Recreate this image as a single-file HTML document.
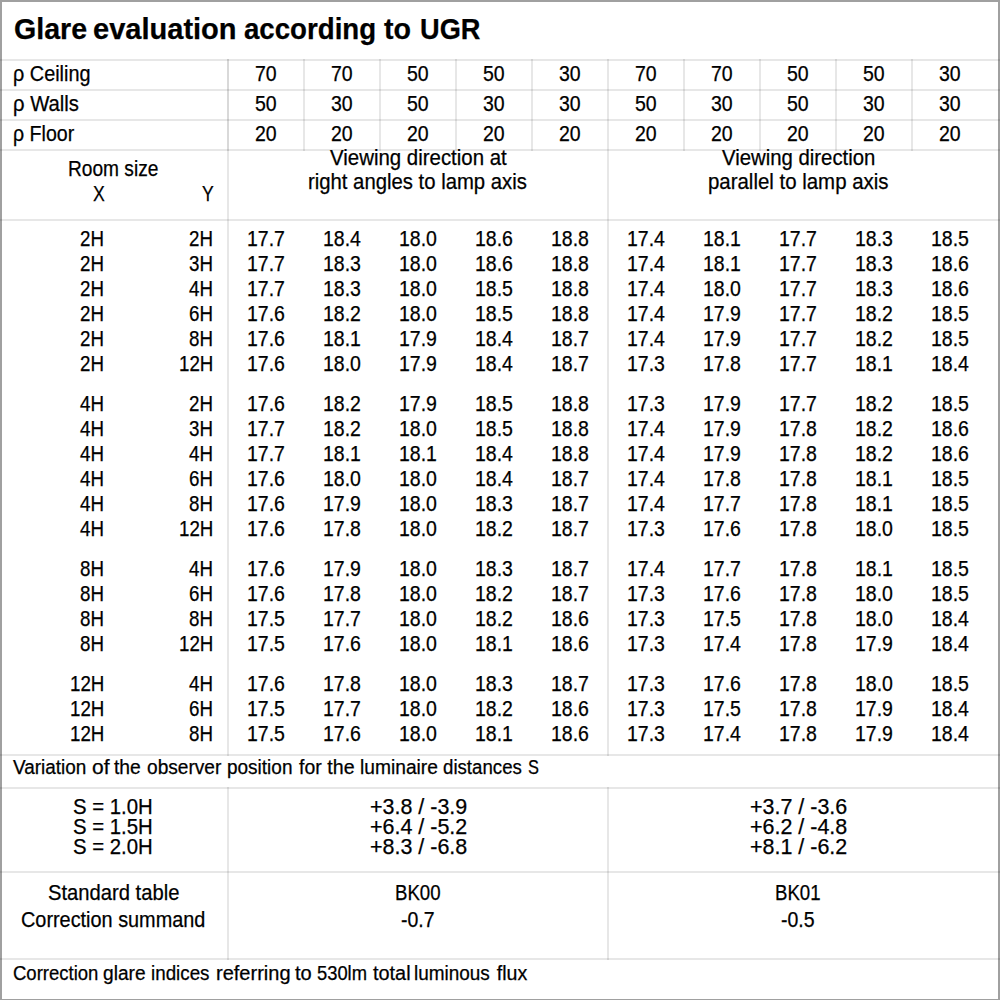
<!DOCTYPE html>
<html><head><meta charset="utf-8"><title>Glare evaluation according to UGR</title>
<style>
html,body{margin:0;padding:0;background:#fff;}
body{width:1000px;height:1000px;position:relative;overflow:hidden;
 font-family:"Liberation Sans",sans-serif;font-size:21.3px;color:#000;}
.frame{position:absolute;left:0;top:0;width:996px;height:997px;
 border-style:solid;border-color:#a0a0a0;border-width:2px 2px 1px 2px;}
.t{position:absolute;white-space:pre;line-height:1;transform-origin:0 0;-webkit-text-stroke:0.25px #000;}
.b{font-weight:bold;font-size:29.2px;}
.s{font-size:19.6px;}
.h{position:absolute;height:2px;background:rgba(0,0,0,0.095);}
.v{position:absolute;width:2px;background:rgba(0,0,0,0.095);}
.vd{background:rgba(0,0,0,0.15);}
</style></head>
<body>
<div class="frame"></div>
<div class="h" style="left:0px;top:59px;width:1000px"></div>
<div class="h" style="left:0px;top:89px;width:1000px"></div>
<div class="h" style="left:0px;top:119px;width:1000px"></div>
<div class="h" style="left:0px;top:149px;width:1000px"></div>
<div class="h" style="left:0px;top:219px;width:1000px"></div>
<div class="h" style="left:0px;top:754px;width:1000px"></div>
<div class="h" style="left:0px;top:787px;width:1000px"></div>
<div class="h" style="left:0px;top:871px;width:1000px"></div>
<div class="h" style="left:0px;top:958px;width:1000px"></div>
<div class="v" style="left:303px;top:59px;height:92px"></div>
<div class="v" style="left:379px;top:59px;height:92px"></div>
<div class="v" style="left:455px;top:59px;height:92px"></div>
<div class="v" style="left:531px;top:59px;height:92px"></div>
<div class="v" style="left:683px;top:59px;height:92px"></div>
<div class="v" style="left:759px;top:59px;height:92px"></div>
<div class="v" style="left:835px;top:59px;height:92px"></div>
<div class="v" style="left:911px;top:59px;height:92px"></div>
<div class="v vd" style="left:227px;top:59px;height:92px"></div>
<div class="v" style="left:227px;top:151px;height:605px"></div>
<div class="v" style="left:227px;top:787px;height:173px"></div>
<div class="v" style="left:607px;top:59px;height:697px"></div>
<div class="v" style="left:607px;top:787px;height:173px"></div>
<div class="t b" style="left:13.78px;top:15px;transform:scaleX(0.9792)">Glare</div>
<div class="t b" style="left:93.26px;top:15px;transform:scaleX(0.9947)">evaluation</div>
<div class="t b" style="left:244.29px;top:15px;transform:scaleX(0.9470)">according</div>
<div class="t b" style="left:384.00px;top:15px;transform:scaleX(0.9810)">to</div>
<div class="t b" style="left:419.62px;top:15px;transform:scaleX(0.9320)">UGR</div>
<div class="t" style="left:12.84px;top:64px;transform:scaleX(0.9317)">ρ Ceiling</div>
<div class="t" style="left:254.92px;top:64px;transform:scaleX(0.9150)">70</div>
<div class="t" style="left:330.92px;top:64px;transform:scaleX(0.9150)">70</div>
<div class="t" style="left:406.92px;top:64px;transform:scaleX(0.9150)">50</div>
<div class="t" style="left:482.92px;top:64px;transform:scaleX(0.9150)">50</div>
<div class="t" style="left:559.03px;top:64px;transform:scaleX(0.9150)">30</div>
<div class="t" style="left:634.92px;top:64px;transform:scaleX(0.9150)">70</div>
<div class="t" style="left:710.92px;top:64px;transform:scaleX(0.9150)">70</div>
<div class="t" style="left:786.92px;top:64px;transform:scaleX(0.9150)">50</div>
<div class="t" style="left:862.92px;top:64px;transform:scaleX(0.9150)">50</div>
<div class="t" style="left:939.03px;top:64px;transform:scaleX(0.9150)">30</div>
<div class="t" style="left:12.81px;top:94px;transform:scaleX(0.9517)">ρ Walls</div>
<div class="t" style="left:254.92px;top:94px;transform:scaleX(0.9150)">50</div>
<div class="t" style="left:331.03px;top:94px;transform:scaleX(0.9150)">30</div>
<div class="t" style="left:406.92px;top:94px;transform:scaleX(0.9150)">50</div>
<div class="t" style="left:483.03px;top:94px;transform:scaleX(0.9150)">30</div>
<div class="t" style="left:559.03px;top:94px;transform:scaleX(0.9150)">30</div>
<div class="t" style="left:634.92px;top:94px;transform:scaleX(0.9150)">50</div>
<div class="t" style="left:711.03px;top:94px;transform:scaleX(0.9150)">30</div>
<div class="t" style="left:786.92px;top:94px;transform:scaleX(0.9150)">50</div>
<div class="t" style="left:863.03px;top:94px;transform:scaleX(0.9150)">30</div>
<div class="t" style="left:939.03px;top:94px;transform:scaleX(0.9150)">30</div>
<div class="t" style="left:12.85px;top:124px;transform:scaleX(0.9192)">ρ Floor</div>
<div class="t" style="left:254.92px;top:124px;transform:scaleX(0.9150)">20</div>
<div class="t" style="left:330.92px;top:124px;transform:scaleX(0.9150)">20</div>
<div class="t" style="left:406.92px;top:124px;transform:scaleX(0.9150)">20</div>
<div class="t" style="left:482.92px;top:124px;transform:scaleX(0.9150)">20</div>
<div class="t" style="left:558.92px;top:124px;transform:scaleX(0.9150)">20</div>
<div class="t" style="left:634.92px;top:124px;transform:scaleX(0.9150)">20</div>
<div class="t" style="left:710.92px;top:124px;transform:scaleX(0.9150)">20</div>
<div class="t" style="left:786.92px;top:124px;transform:scaleX(0.9150)">20</div>
<div class="t" style="left:862.92px;top:124px;transform:scaleX(0.9150)">20</div>
<div class="t" style="left:938.92px;top:124px;transform:scaleX(0.9150)">20</div>
<div class="t" style="left:68.43px;top:159px;transform:scaleX(0.8980)">Room size</div>
<div class="t" style="left:92.58px;top:184px;transform:scaleX(0.8302)">X</div>
<div class="t" style="left:201.89px;top:184px;transform:scaleX(0.8231)">Y</div>
<div class="t" style="left:330.26px;top:148px;transform:scaleX(0.9592)">Viewing direction at</div>
<div class="t" style="left:308.07px;top:172px;transform:scaleX(0.9530)">right angles to lamp axis</div>
<div class="t" style="left:721.66px;top:148px;transform:scaleX(0.9547)">Viewing direction</div>
<div class="t" style="left:708.00px;top:172px;transform:scaleX(0.9589)">parallel to lamp axis</div>
<div class="t s" style="left:12.76px;top:758px;transform:scaleX(0.9664)">Variation</div>
<div class="t s" style="left:91.60px;top:758px;transform:scaleX(1.0710)">of</div>
<div class="t s" style="left:114.15px;top:758px;transform:scaleX(0.9846)">the</div>
<div class="t s" style="left:146.87px;top:758px;transform:scaleX(0.9754)">observer</div>
<div class="t s" style="left:226.79px;top:758px;transform:scaleX(0.9692)">position</div>
<div class="t s" style="left:298.75px;top:758px;transform:scaleX(0.9888)">for</div>
<div class="t s" style="left:327.35px;top:758px;transform:scaleX(1.0000)">the</div>
<div class="t s" style="left:359.77px;top:758px;transform:scaleX(0.9806)">luminaire</div>
<div class="t s" style="left:442.89px;top:758px;transform:scaleX(0.9526)">distances</div>
<div class="t s" style="left:527.76px;top:758px;transform:scaleX(0.8356)">S</div>
<div class="t" style="left:47.95px;top:883px;transform:scaleX(0.9487)">Standard table</div>
<div class="t" style="left:21.37px;top:910px;transform:scaleX(0.9327)">Correction summand</div>
<div class="t s" style="left:12.65px;top:964px;transform:scaleX(0.9450)">Correction</div>
<div class="t s" style="left:103.27px;top:964px;transform:scaleX(0.9762)">glare</div>
<div class="t s" style="left:151.20px;top:964px;transform:scaleX(0.9593)">indices</div>
<div class="t s" style="left:215.72px;top:964px;transform:scaleX(1.0213)">referring</div>
<div class="t s" style="left:295.14px;top:964px;transform:scaleX(1.0230)">to</div>
<div class="t s" style="left:317.30px;top:964px;transform:scaleX(0.9366)">530lm</div>
<div class="t s" style="left:372.75px;top:964px;transform:scaleX(1.0141)">total</div>
<div class="t s" style="left:414.39px;top:964px;transform:scaleX(0.9673)">luminous</div>
<div class="t s" style="left:496.75px;top:964px;transform:scaleX(1.0000)">flux</div>
<div class="t" style="left:80.26px;top:229px;transform:scaleX(0.8800)">2H</div>
<div class="t" style="left:188.91px;top:229px;transform:scaleX(0.8800)">2H</div>
<div class="t" style="left:246.68px;top:229px;transform:scaleX(0.9150)">17.7</div>
<div class="t" style="left:322.57px;top:229px;transform:scaleX(0.9150)">18.4</div>
<div class="t" style="left:398.57px;top:229px;transform:scaleX(0.9150)">18.0</div>
<div class="t" style="left:474.69px;top:229px;transform:scaleX(0.9150)">18.6</div>
<div class="t" style="left:550.68px;top:229px;transform:scaleX(0.9150)">18.8</div>
<div class="t" style="left:626.57px;top:229px;transform:scaleX(0.9150)">17.4</div>
<div class="t" style="left:702.68px;top:229px;transform:scaleX(0.9150)">18.1</div>
<div class="t" style="left:778.68px;top:229px;transform:scaleX(0.9150)">17.7</div>
<div class="t" style="left:854.68px;top:229px;transform:scaleX(0.9150)">18.3</div>
<div class="t" style="left:930.68px;top:229px;transform:scaleX(0.9150)">18.5</div>
<div class="t" style="left:80.26px;top:254px;transform:scaleX(0.8800)">2H</div>
<div class="t" style="left:188.91px;top:254px;transform:scaleX(0.8800)">3H</div>
<div class="t" style="left:246.68px;top:254px;transform:scaleX(0.9150)">17.7</div>
<div class="t" style="left:322.69px;top:254px;transform:scaleX(0.9150)">18.3</div>
<div class="t" style="left:398.57px;top:254px;transform:scaleX(0.9150)">18.0</div>
<div class="t" style="left:474.69px;top:254px;transform:scaleX(0.9150)">18.6</div>
<div class="t" style="left:550.68px;top:254px;transform:scaleX(0.9150)">18.8</div>
<div class="t" style="left:626.57px;top:254px;transform:scaleX(0.9150)">17.4</div>
<div class="t" style="left:702.68px;top:254px;transform:scaleX(0.9150)">18.1</div>
<div class="t" style="left:778.68px;top:254px;transform:scaleX(0.9150)">17.7</div>
<div class="t" style="left:854.68px;top:254px;transform:scaleX(0.9150)">18.3</div>
<div class="t" style="left:930.68px;top:254px;transform:scaleX(0.9150)">18.6</div>
<div class="t" style="left:80.26px;top:279px;transform:scaleX(0.8800)">2H</div>
<div class="t" style="left:188.91px;top:279px;transform:scaleX(0.8800)">4H</div>
<div class="t" style="left:246.68px;top:279px;transform:scaleX(0.9150)">17.7</div>
<div class="t" style="left:322.69px;top:279px;transform:scaleX(0.9150)">18.3</div>
<div class="t" style="left:398.57px;top:279px;transform:scaleX(0.9150)">18.0</div>
<div class="t" style="left:474.69px;top:279px;transform:scaleX(0.9150)">18.5</div>
<div class="t" style="left:550.68px;top:279px;transform:scaleX(0.9150)">18.8</div>
<div class="t" style="left:626.57px;top:279px;transform:scaleX(0.9150)">17.4</div>
<div class="t" style="left:702.57px;top:279px;transform:scaleX(0.9150)">18.0</div>
<div class="t" style="left:778.68px;top:279px;transform:scaleX(0.9150)">17.7</div>
<div class="t" style="left:854.68px;top:279px;transform:scaleX(0.9150)">18.3</div>
<div class="t" style="left:930.68px;top:279px;transform:scaleX(0.9150)">18.6</div>
<div class="t" style="left:80.26px;top:304px;transform:scaleX(0.8800)">2H</div>
<div class="t" style="left:188.91px;top:304px;transform:scaleX(0.8800)">6H</div>
<div class="t" style="left:246.68px;top:304px;transform:scaleX(0.9150)">17.6</div>
<div class="t" style="left:322.69px;top:304px;transform:scaleX(0.9150)">18.2</div>
<div class="t" style="left:398.57px;top:304px;transform:scaleX(0.9150)">18.0</div>
<div class="t" style="left:474.69px;top:304px;transform:scaleX(0.9150)">18.5</div>
<div class="t" style="left:550.68px;top:304px;transform:scaleX(0.9150)">18.8</div>
<div class="t" style="left:626.57px;top:304px;transform:scaleX(0.9150)">17.4</div>
<div class="t" style="left:702.68px;top:304px;transform:scaleX(0.9150)">17.9</div>
<div class="t" style="left:778.68px;top:304px;transform:scaleX(0.9150)">17.7</div>
<div class="t" style="left:854.68px;top:304px;transform:scaleX(0.9150)">18.2</div>
<div class="t" style="left:930.68px;top:304px;transform:scaleX(0.9150)">18.5</div>
<div class="t" style="left:80.26px;top:329px;transform:scaleX(0.8800)">2H</div>
<div class="t" style="left:188.91px;top:329px;transform:scaleX(0.8800)">8H</div>
<div class="t" style="left:246.68px;top:329px;transform:scaleX(0.9150)">17.6</div>
<div class="t" style="left:322.69px;top:329px;transform:scaleX(0.9150)">18.1</div>
<div class="t" style="left:398.69px;top:329px;transform:scaleX(0.9150)">17.9</div>
<div class="t" style="left:474.57px;top:329px;transform:scaleX(0.9150)">18.4</div>
<div class="t" style="left:550.68px;top:329px;transform:scaleX(0.9150)">18.7</div>
<div class="t" style="left:626.57px;top:329px;transform:scaleX(0.9150)">17.4</div>
<div class="t" style="left:702.68px;top:329px;transform:scaleX(0.9150)">17.9</div>
<div class="t" style="left:778.68px;top:329px;transform:scaleX(0.9150)">17.7</div>
<div class="t" style="left:854.68px;top:329px;transform:scaleX(0.9150)">18.2</div>
<div class="t" style="left:930.68px;top:329px;transform:scaleX(0.9150)">18.5</div>
<div class="t" style="left:80.26px;top:354px;transform:scaleX(0.8800)">2H</div>
<div class="t" style="left:178.57px;top:354px;transform:scaleX(0.8800)">12H</div>
<div class="t" style="left:246.68px;top:354px;transform:scaleX(0.9150)">17.6</div>
<div class="t" style="left:322.57px;top:354px;transform:scaleX(0.9150)">18.0</div>
<div class="t" style="left:398.69px;top:354px;transform:scaleX(0.9150)">17.9</div>
<div class="t" style="left:474.57px;top:354px;transform:scaleX(0.9150)">18.4</div>
<div class="t" style="left:550.68px;top:354px;transform:scaleX(0.9150)">18.7</div>
<div class="t" style="left:626.68px;top:354px;transform:scaleX(0.9150)">17.3</div>
<div class="t" style="left:702.68px;top:354px;transform:scaleX(0.9150)">17.8</div>
<div class="t" style="left:778.68px;top:354px;transform:scaleX(0.9150)">17.7</div>
<div class="t" style="left:854.68px;top:354px;transform:scaleX(0.9150)">18.1</div>
<div class="t" style="left:930.57px;top:354px;transform:scaleX(0.9150)">18.4</div>
<div class="t" style="left:80.26px;top:394px;transform:scaleX(0.8800)">4H</div>
<div class="t" style="left:188.91px;top:394px;transform:scaleX(0.8800)">2H</div>
<div class="t" style="left:246.68px;top:394px;transform:scaleX(0.9150)">17.6</div>
<div class="t" style="left:322.69px;top:394px;transform:scaleX(0.9150)">18.2</div>
<div class="t" style="left:398.69px;top:394px;transform:scaleX(0.9150)">17.9</div>
<div class="t" style="left:474.69px;top:394px;transform:scaleX(0.9150)">18.5</div>
<div class="t" style="left:550.68px;top:394px;transform:scaleX(0.9150)">18.8</div>
<div class="t" style="left:626.68px;top:394px;transform:scaleX(0.9150)">17.3</div>
<div class="t" style="left:702.68px;top:394px;transform:scaleX(0.9150)">17.9</div>
<div class="t" style="left:778.68px;top:394px;transform:scaleX(0.9150)">17.7</div>
<div class="t" style="left:854.68px;top:394px;transform:scaleX(0.9150)">18.2</div>
<div class="t" style="left:930.68px;top:394px;transform:scaleX(0.9150)">18.5</div>
<div class="t" style="left:80.26px;top:419px;transform:scaleX(0.8800)">4H</div>
<div class="t" style="left:188.91px;top:419px;transform:scaleX(0.8800)">3H</div>
<div class="t" style="left:246.68px;top:419px;transform:scaleX(0.9150)">17.7</div>
<div class="t" style="left:322.69px;top:419px;transform:scaleX(0.9150)">18.2</div>
<div class="t" style="left:398.57px;top:419px;transform:scaleX(0.9150)">18.0</div>
<div class="t" style="left:474.69px;top:419px;transform:scaleX(0.9150)">18.5</div>
<div class="t" style="left:550.68px;top:419px;transform:scaleX(0.9150)">18.8</div>
<div class="t" style="left:626.57px;top:419px;transform:scaleX(0.9150)">17.4</div>
<div class="t" style="left:702.68px;top:419px;transform:scaleX(0.9150)">17.9</div>
<div class="t" style="left:778.68px;top:419px;transform:scaleX(0.9150)">17.8</div>
<div class="t" style="left:854.68px;top:419px;transform:scaleX(0.9150)">18.2</div>
<div class="t" style="left:930.68px;top:419px;transform:scaleX(0.9150)">18.6</div>
<div class="t" style="left:80.26px;top:444px;transform:scaleX(0.8800)">4H</div>
<div class="t" style="left:188.91px;top:444px;transform:scaleX(0.8800)">4H</div>
<div class="t" style="left:246.68px;top:444px;transform:scaleX(0.9150)">17.7</div>
<div class="t" style="left:322.69px;top:444px;transform:scaleX(0.9150)">18.1</div>
<div class="t" style="left:398.69px;top:444px;transform:scaleX(0.9150)">18.1</div>
<div class="t" style="left:474.57px;top:444px;transform:scaleX(0.9150)">18.4</div>
<div class="t" style="left:550.68px;top:444px;transform:scaleX(0.9150)">18.8</div>
<div class="t" style="left:626.57px;top:444px;transform:scaleX(0.9150)">17.4</div>
<div class="t" style="left:702.68px;top:444px;transform:scaleX(0.9150)">17.9</div>
<div class="t" style="left:778.68px;top:444px;transform:scaleX(0.9150)">17.8</div>
<div class="t" style="left:854.68px;top:444px;transform:scaleX(0.9150)">18.2</div>
<div class="t" style="left:930.68px;top:444px;transform:scaleX(0.9150)">18.6</div>
<div class="t" style="left:80.26px;top:469px;transform:scaleX(0.8800)">4H</div>
<div class="t" style="left:188.91px;top:469px;transform:scaleX(0.8800)">6H</div>
<div class="t" style="left:246.68px;top:469px;transform:scaleX(0.9150)">17.6</div>
<div class="t" style="left:322.57px;top:469px;transform:scaleX(0.9150)">18.0</div>
<div class="t" style="left:398.57px;top:469px;transform:scaleX(0.9150)">18.0</div>
<div class="t" style="left:474.57px;top:469px;transform:scaleX(0.9150)">18.4</div>
<div class="t" style="left:550.68px;top:469px;transform:scaleX(0.9150)">18.7</div>
<div class="t" style="left:626.57px;top:469px;transform:scaleX(0.9150)">17.4</div>
<div class="t" style="left:702.68px;top:469px;transform:scaleX(0.9150)">17.8</div>
<div class="t" style="left:778.68px;top:469px;transform:scaleX(0.9150)">17.8</div>
<div class="t" style="left:854.68px;top:469px;transform:scaleX(0.9150)">18.1</div>
<div class="t" style="left:930.68px;top:469px;transform:scaleX(0.9150)">18.5</div>
<div class="t" style="left:80.26px;top:494px;transform:scaleX(0.8800)">4H</div>
<div class="t" style="left:188.91px;top:494px;transform:scaleX(0.8800)">8H</div>
<div class="t" style="left:246.68px;top:494px;transform:scaleX(0.9150)">17.6</div>
<div class="t" style="left:322.69px;top:494px;transform:scaleX(0.9150)">17.9</div>
<div class="t" style="left:398.57px;top:494px;transform:scaleX(0.9150)">18.0</div>
<div class="t" style="left:474.69px;top:494px;transform:scaleX(0.9150)">18.3</div>
<div class="t" style="left:550.68px;top:494px;transform:scaleX(0.9150)">18.7</div>
<div class="t" style="left:626.57px;top:494px;transform:scaleX(0.9150)">17.4</div>
<div class="t" style="left:702.68px;top:494px;transform:scaleX(0.9150)">17.7</div>
<div class="t" style="left:778.68px;top:494px;transform:scaleX(0.9150)">17.8</div>
<div class="t" style="left:854.68px;top:494px;transform:scaleX(0.9150)">18.1</div>
<div class="t" style="left:930.68px;top:494px;transform:scaleX(0.9150)">18.5</div>
<div class="t" style="left:80.26px;top:519px;transform:scaleX(0.8800)">4H</div>
<div class="t" style="left:178.57px;top:519px;transform:scaleX(0.8800)">12H</div>
<div class="t" style="left:246.68px;top:519px;transform:scaleX(0.9150)">17.6</div>
<div class="t" style="left:322.69px;top:519px;transform:scaleX(0.9150)">17.8</div>
<div class="t" style="left:398.57px;top:519px;transform:scaleX(0.9150)">18.0</div>
<div class="t" style="left:474.69px;top:519px;transform:scaleX(0.9150)">18.2</div>
<div class="t" style="left:550.68px;top:519px;transform:scaleX(0.9150)">18.7</div>
<div class="t" style="left:626.68px;top:519px;transform:scaleX(0.9150)">17.3</div>
<div class="t" style="left:702.68px;top:519px;transform:scaleX(0.9150)">17.6</div>
<div class="t" style="left:778.68px;top:519px;transform:scaleX(0.9150)">17.8</div>
<div class="t" style="left:854.57px;top:519px;transform:scaleX(0.9150)">18.0</div>
<div class="t" style="left:930.68px;top:519px;transform:scaleX(0.9150)">18.5</div>
<div class="t" style="left:80.26px;top:559px;transform:scaleX(0.8800)">8H</div>
<div class="t" style="left:188.91px;top:559px;transform:scaleX(0.8800)">4H</div>
<div class="t" style="left:246.68px;top:559px;transform:scaleX(0.9150)">17.6</div>
<div class="t" style="left:322.69px;top:559px;transform:scaleX(0.9150)">17.9</div>
<div class="t" style="left:398.57px;top:559px;transform:scaleX(0.9150)">18.0</div>
<div class="t" style="left:474.69px;top:559px;transform:scaleX(0.9150)">18.3</div>
<div class="t" style="left:550.68px;top:559px;transform:scaleX(0.9150)">18.7</div>
<div class="t" style="left:626.57px;top:559px;transform:scaleX(0.9150)">17.4</div>
<div class="t" style="left:702.68px;top:559px;transform:scaleX(0.9150)">17.7</div>
<div class="t" style="left:778.68px;top:559px;transform:scaleX(0.9150)">17.8</div>
<div class="t" style="left:854.68px;top:559px;transform:scaleX(0.9150)">18.1</div>
<div class="t" style="left:930.68px;top:559px;transform:scaleX(0.9150)">18.5</div>
<div class="t" style="left:80.26px;top:584px;transform:scaleX(0.8800)">8H</div>
<div class="t" style="left:188.91px;top:584px;transform:scaleX(0.8800)">6H</div>
<div class="t" style="left:246.68px;top:584px;transform:scaleX(0.9150)">17.6</div>
<div class="t" style="left:322.69px;top:584px;transform:scaleX(0.9150)">17.8</div>
<div class="t" style="left:398.57px;top:584px;transform:scaleX(0.9150)">18.0</div>
<div class="t" style="left:474.69px;top:584px;transform:scaleX(0.9150)">18.2</div>
<div class="t" style="left:550.68px;top:584px;transform:scaleX(0.9150)">18.7</div>
<div class="t" style="left:626.68px;top:584px;transform:scaleX(0.9150)">17.3</div>
<div class="t" style="left:702.68px;top:584px;transform:scaleX(0.9150)">17.6</div>
<div class="t" style="left:778.68px;top:584px;transform:scaleX(0.9150)">17.8</div>
<div class="t" style="left:854.57px;top:584px;transform:scaleX(0.9150)">18.0</div>
<div class="t" style="left:930.68px;top:584px;transform:scaleX(0.9150)">18.5</div>
<div class="t" style="left:80.26px;top:609px;transform:scaleX(0.8800)">8H</div>
<div class="t" style="left:188.91px;top:609px;transform:scaleX(0.8800)">8H</div>
<div class="t" style="left:246.68px;top:609px;transform:scaleX(0.9150)">17.5</div>
<div class="t" style="left:322.69px;top:609px;transform:scaleX(0.9150)">17.7</div>
<div class="t" style="left:398.57px;top:609px;transform:scaleX(0.9150)">18.0</div>
<div class="t" style="left:474.69px;top:609px;transform:scaleX(0.9150)">18.2</div>
<div class="t" style="left:550.68px;top:609px;transform:scaleX(0.9150)">18.6</div>
<div class="t" style="left:626.68px;top:609px;transform:scaleX(0.9150)">17.3</div>
<div class="t" style="left:702.68px;top:609px;transform:scaleX(0.9150)">17.5</div>
<div class="t" style="left:778.68px;top:609px;transform:scaleX(0.9150)">17.8</div>
<div class="t" style="left:854.57px;top:609px;transform:scaleX(0.9150)">18.0</div>
<div class="t" style="left:930.57px;top:609px;transform:scaleX(0.9150)">18.4</div>
<div class="t" style="left:80.26px;top:634px;transform:scaleX(0.8800)">8H</div>
<div class="t" style="left:178.57px;top:634px;transform:scaleX(0.8800)">12H</div>
<div class="t" style="left:246.68px;top:634px;transform:scaleX(0.9150)">17.5</div>
<div class="t" style="left:322.69px;top:634px;transform:scaleX(0.9150)">17.6</div>
<div class="t" style="left:398.57px;top:634px;transform:scaleX(0.9150)">18.0</div>
<div class="t" style="left:474.69px;top:634px;transform:scaleX(0.9150)">18.1</div>
<div class="t" style="left:550.68px;top:634px;transform:scaleX(0.9150)">18.6</div>
<div class="t" style="left:626.68px;top:634px;transform:scaleX(0.9150)">17.3</div>
<div class="t" style="left:702.57px;top:634px;transform:scaleX(0.9150)">17.4</div>
<div class="t" style="left:778.68px;top:634px;transform:scaleX(0.9150)">17.8</div>
<div class="t" style="left:854.68px;top:634px;transform:scaleX(0.9150)">17.9</div>
<div class="t" style="left:930.57px;top:634px;transform:scaleX(0.9150)">18.4</div>
<div class="t" style="left:69.92px;top:674px;transform:scaleX(0.8800)">12H</div>
<div class="t" style="left:188.91px;top:674px;transform:scaleX(0.8800)">4H</div>
<div class="t" style="left:246.68px;top:674px;transform:scaleX(0.9150)">17.6</div>
<div class="t" style="left:322.69px;top:674px;transform:scaleX(0.9150)">17.8</div>
<div class="t" style="left:398.57px;top:674px;transform:scaleX(0.9150)">18.0</div>
<div class="t" style="left:474.69px;top:674px;transform:scaleX(0.9150)">18.3</div>
<div class="t" style="left:550.68px;top:674px;transform:scaleX(0.9150)">18.7</div>
<div class="t" style="left:626.68px;top:674px;transform:scaleX(0.9150)">17.3</div>
<div class="t" style="left:702.68px;top:674px;transform:scaleX(0.9150)">17.6</div>
<div class="t" style="left:778.68px;top:674px;transform:scaleX(0.9150)">17.8</div>
<div class="t" style="left:854.57px;top:674px;transform:scaleX(0.9150)">18.0</div>
<div class="t" style="left:930.68px;top:674px;transform:scaleX(0.9150)">18.5</div>
<div class="t" style="left:69.92px;top:699px;transform:scaleX(0.8800)">12H</div>
<div class="t" style="left:188.91px;top:699px;transform:scaleX(0.8800)">6H</div>
<div class="t" style="left:246.68px;top:699px;transform:scaleX(0.9150)">17.5</div>
<div class="t" style="left:322.69px;top:699px;transform:scaleX(0.9150)">17.7</div>
<div class="t" style="left:398.57px;top:699px;transform:scaleX(0.9150)">18.0</div>
<div class="t" style="left:474.69px;top:699px;transform:scaleX(0.9150)">18.2</div>
<div class="t" style="left:550.68px;top:699px;transform:scaleX(0.9150)">18.6</div>
<div class="t" style="left:626.68px;top:699px;transform:scaleX(0.9150)">17.3</div>
<div class="t" style="left:702.68px;top:699px;transform:scaleX(0.9150)">17.5</div>
<div class="t" style="left:778.68px;top:699px;transform:scaleX(0.9150)">17.8</div>
<div class="t" style="left:854.68px;top:699px;transform:scaleX(0.9150)">17.9</div>
<div class="t" style="left:930.57px;top:699px;transform:scaleX(0.9150)">18.4</div>
<div class="t" style="left:69.92px;top:724px;transform:scaleX(0.8800)">12H</div>
<div class="t" style="left:188.91px;top:724px;transform:scaleX(0.8800)">8H</div>
<div class="t" style="left:246.68px;top:724px;transform:scaleX(0.9150)">17.5</div>
<div class="t" style="left:322.69px;top:724px;transform:scaleX(0.9150)">17.6</div>
<div class="t" style="left:398.57px;top:724px;transform:scaleX(0.9150)">18.0</div>
<div class="t" style="left:474.69px;top:724px;transform:scaleX(0.9150)">18.1</div>
<div class="t" style="left:550.68px;top:724px;transform:scaleX(0.9150)">18.6</div>
<div class="t" style="left:626.68px;top:724px;transform:scaleX(0.9150)">17.3</div>
<div class="t" style="left:702.57px;top:724px;transform:scaleX(0.9150)">17.4</div>
<div class="t" style="left:778.68px;top:724px;transform:scaleX(0.9150)">17.8</div>
<div class="t" style="left:854.68px;top:724px;transform:scaleX(0.9150)">17.9</div>
<div class="t" style="left:930.57px;top:724px;transform:scaleX(0.9150)">18.4</div>
<div class="t" style="left:73.30px;top:797px;transform:scaleX(0.9560)">S = 1.0H</div>
<div class="t" style="left:369.66px;top:797px;transform:scaleX(1.0080)">+3.8 / -3.9</div>
<div class="t" style="left:749.66px;top:797px;transform:scaleX(1.0080)">+3.7 / -3.6</div>
<div class="t" style="left:73.30px;top:817px;transform:scaleX(0.9560)">S = 1.5H</div>
<div class="t" style="left:369.66px;top:817px;transform:scaleX(1.0080)">+6.4 / -5.2</div>
<div class="t" style="left:749.66px;top:817px;transform:scaleX(1.0080)">+6.2 / -4.8</div>
<div class="t" style="left:73.30px;top:837px;transform:scaleX(0.9560)">S = 2.0H</div>
<div class="t" style="left:369.66px;top:837px;transform:scaleX(1.0080)">+8.3 / -6.8</div>
<div class="t" style="left:749.66px;top:837px;transform:scaleX(1.0080)">+8.1 / -6.2</div>
<div class="t" style="left:395.11px;top:883px;transform:scaleX(0.8750)">BK00</div>
<div class="t" style="left:401.49px;top:910px;transform:scaleX(0.9150)">-0.7</div>
<div class="t" style="left:775.22px;top:883px;transform:scaleX(0.8750)">BK01</div>
<div class="t" style="left:781.49px;top:910px;transform:scaleX(0.9150)">-0.5</div>
</body></html>
